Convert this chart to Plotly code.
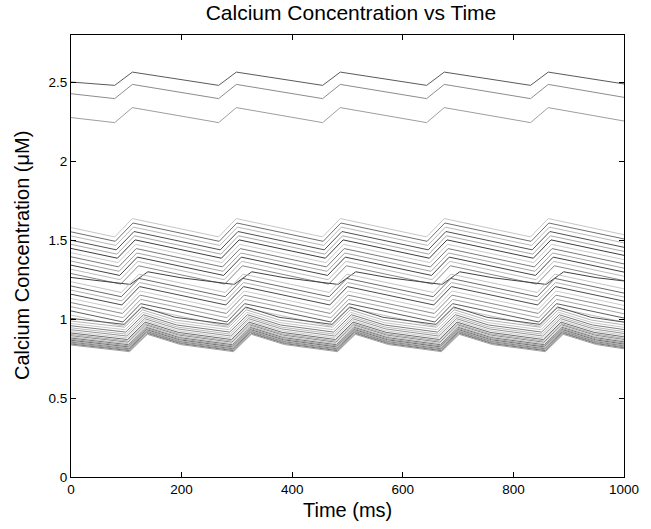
import plotly.graph_objects as go

# Shared event times (ms) for the periodic sawtooth
valley_times = [79, 267, 455, 643, 831]
peak_times = [111, 299, 487, 675, 863]
mid_delay = 60  # knot after each peak
t_end = 1000

# Per-line readings: start (t=0), valley, peak, mid (peak+60ms), end (t=1000), lag (ms)
line_start = [2.502, 2.428, 2.277,
              1.580, 1.553, 1.527, 1.500, 1.474, 1.448, 1.421, 1.395, 1.368, 1.342, 1.316, 1.289,
              1.264,
              1.237, 1.210, 1.184, 1.158, 1.131, 1.105, 1.079, 1.052, 1.026,
              1.005, 0.988, 0.972, 0.958, 0.945, 0.933, 0.922, 0.912, 0.903, 0.895, 0.887,
              0.880, 0.873, 0.866, 0.860, 0.854, 0.848, 0.842, 0.836]
line_valley = [2.481, 2.397, 2.245,
               1.521, 1.493, 1.467, 1.439, 1.412, 1.386, 1.358, 1.331, 1.303, 1.277, 1.250, 1.222,
               1.220,
               1.169, 1.142, 1.116, 1.090, 1.062, 1.036, 1.009, 0.982, 0.955,
               0.967, 0.949, 0.933, 0.918, 0.905, 0.893, 0.882, 0.871, 0.862, 0.854, 0.846,
               0.838, 0.831, 0.824, 0.818, 0.812, 0.806, 0.800, 0.794]
line_peak = [2.565, 2.487, 2.340,
             1.637, 1.609, 1.583, 1.555, 1.528, 1.502, 1.474, 1.447, 1.419, 1.393, 1.366, 1.338,
             1.300,
             1.285, 1.258, 1.232, 1.206, 1.178, 1.152, 1.125, 1.098, 1.071,
             1.077, 1.059, 1.043, 1.028, 1.015, 1.003, 0.992, 0.981, 0.972, 0.964, 0.956,
             0.948, 0.941, 0.934, 0.928, 0.922, 0.916, 0.910, 0.904]
line_mid = [2.533, 2.452, 2.303,
            1.592, 1.564, 1.538, 1.510, 1.483, 1.457, 1.429, 1.402, 1.374, 1.348, 1.321, 1.293,
            1.262,
            1.240, 1.213, 1.187, 1.161, 1.133, 1.107, 1.080, 1.053, 1.026,
            1.012, 0.994, 0.978, 0.963, 0.950, 0.938, 0.927, 0.916, 0.907, 0.899, 0.891,
            0.883, 0.876, 0.869, 0.863, 0.857, 0.851, 0.845, 0.839]
line_end = [2.490, 2.405, 2.255,
            1.535, 1.508, 1.483, 1.455, 1.429, 1.404, 1.377, 1.350, 1.323, 1.298, 1.272, 1.244,
            1.242,
            1.192, 1.165, 1.140, 1.114, 1.087, 1.061, 1.034, 1.007, 0.981,
            0.981, 0.964, 0.948, 0.934, 0.921, 0.909, 0.898, 0.888, 0.879, 0.871, 0.863,
            0.856, 0.849, 0.842, 0.836, 0.830, 0.824, 0.818, 0.812]
line_lag = [0, 0, 0,
            0, 1, 2, 3, 4, 5, 6, 7, 8, 9, 10, 11,
            28,
            12, 12, 13, 13, 14, 14, 15, 15, 16,
            17, 18, 19, 20, 21, 22, 22, 23, 23, 24, 24,
            25, 25, 25, 26, 26, 26, 27, 27]
line_colors = ['#5a5a5a', '#8c8c8c', '#9e9e9e',
               '#c6c6c6', '#707070', '#b8b8b8', '#505050', '#a8a8a8', '#3e3e3e', '#cacaca',
               '#7a7a7a', '#a4a4a4', '#444444', '#bcbcbc', '#888888',
               '#404040',
               '#c4c4c4', '#6a6a6a', '#b0b0b0', '#4a4a4a', '#cccccc', '#8c8c8c', '#a6a6a6',
               '#5e5e5e', '#c0c0c0',
               '#555555', '#b4b4b4', '#c8c8c8', '#7e7e7e', '#bababa', '#969696', '#d0d0d0',
               '#6e6e6e', '#aeaeae', '#8a8a8a', '#c2c2c2',
               '#767676', '#a2a2a2', '#686868', '#acacac', '#808080', '#9a9a9a', '#747474',
               '#a0a0a0']

fig = go.Figure()
for i in range(len(line_start)):
    lag = line_lag[i]
    xs = [0]
    ys = [line_start[i]]
    for vt, pt in zip(valley_times, peak_times):
        xs += [vt + lag, pt + lag, pt + lag + mid_delay]
        ys += [line_valley[i], line_peak[i], line_mid[i]]
    xs.append(t_end)
    ys.append(line_end[i])
    fig.add_trace(go.Scatter(x=xs, y=ys, mode='lines',
                             line=dict(color=line_colors[i], width=1),
                             showlegend=False, hoverinfo='skip'))

font_family = 'Liberation Sans, Arial, sans-serif'
axis_common = dict(showline=True, linecolor='black', linewidth=1, mirror='ticks',
                   ticks='inside', ticklen=5, tickwidth=1, tickcolor='black',
                   showgrid=False, zeroline=False,
                   tickfont=dict(family=font_family, size=13.5, color='black'))

fig.update_layout(
    width=651, height=529,
    margin=dict(l=71, r=20, t=35, b=52),
    paper_bgcolor='white', plot_bgcolor='white',
    font=dict(family=font_family, color='black'),
    title=dict(text='Calcium Concentration vs Time', x=351 / 651, xanchor='center',
               y=1 - 13 / 529, yanchor='middle',
               font=dict(size=21, color='black')),
    xaxis=dict(range=[0, 1000], tickvals=[0, 200, 400, 600, 800, 1000], **axis_common),
    yaxis=dict(range=[0, 2.8], tickvals=[0, 0.5, 1, 1.5, 2, 2.5], **axis_common),
    annotations=[
        dict(text='Time (ms)', xref='paper', yref='paper', x=0.5, y=0,
             xanchor='center', yanchor='middle', yshift=-33, showarrow=False,
             font=dict(size=20, color='black', family=font_family)),
        dict(text='Calcium Concentration (μM)', xref='paper', yref='paper', x=0, y=0.5,
             xanchor='center', yanchor='middle', xshift=-49, textangle=-90, showarrow=False,
             font=dict(size=20, color='black', family=font_family)),
    ],
)

fig.write_html('out.html')
